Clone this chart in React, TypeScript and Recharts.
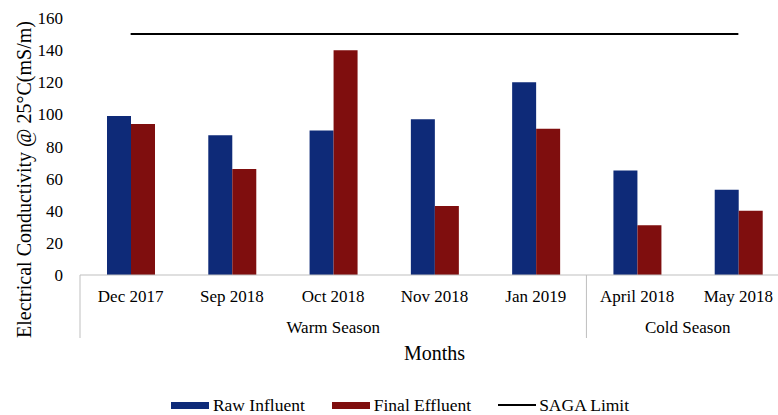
import { Bar, ComposedChart, Legend, Line, XAxis, YAxis } from 'recharts';

const months = ['Dec 2017', 'Sep 2018', 'Oct 2018', 'Nov 2018', 'Jan 2019', 'April 2018', 'May 2018'];
const seasons = ['Warm Season', 'Warm Season', 'Warm Season', 'Warm Season', 'Warm Season', 'Cold Season', 'Cold Season'];
const rawInfluent = [99, 87, 90, 97, 120, 65, 53];
const finalEffluent = [94, 66, 140, 43, 91, 31, 40];
const sagaLimit = [150, 150, 150, 150, 150, 150, 150];
const yTicks = [0, 20, 40, 60, 80, 100, 120, 140, 160];

const BLUE = '#0e2a78';
const RED = '#7f0e0e';
const AXIS_GREY = '#bfbfbf';
const FONT = '"Liberation Serif", "Times New Roman", serif';

// layout
const CHART_W = 800;
const CHART_H = 415;
const Y_AXIS_W = 80;
const MARGIN = { top: 18, right: 11, left: 0, bottom: 0 };
const BAND = (CHART_W - Y_AXIS_W - MARGIN.left - MARGIN.right) / months.length;

const data = months.map((m, i) => ({
  month: m,
  season: seasons[i],
  raw: rawInfluent[i],
  final: finalEffluent[i],
  saga: sagaLimit[i],
}));

const legendItems = [
  { name: 'Raw Influent', color: BLUE, kind: 'box' },
  { name: 'Final Effluent', color: RED, kind: 'box' },
  { name: 'SAGA Limit', color: '#000', kind: 'line' },
];

function MonthTick({ x, y, payload }: any) {
  const i = payload.index;
  const season = seasons[i];
  const members = seasons.map((s, k) => (s === season ? k : -1)).filter((k) => k >= 0);
  const start = members[0];
  const end = members[members.length - 1];
  const isStart = i === start;
  const groupCenter = x + ((start + end) / 2 - i) * BAND;
  return (
    <g>
      <text x={x} y={y + 27} textAnchor="middle" fontSize={17} fill="#000" fontFamily={FONT}>
        {payload.value}
      </text>
      {isStart && (
        <>
          <line x1={x - BAND / 2} x2={x - BAND / 2} y1={y} y2={y + 63} stroke={AXIS_GREY} />
          <text x={groupCenter} y={y + 58} textAnchor="middle" fontSize={17} fill="#000" fontFamily={FONT}>
            {season}
          </text>
        </>
      )}
      {i === end && i === seasons.length - 1 && (
        <line x1={x + BAND / 2} x2={x + BAND / 2} y1={y} y2={y + 63} stroke={AXIS_GREY} />
      )}
    </g>
  );
}

function YTitle({ viewBox }: any) {
  const cx = 24;
  const cy = viewBox.y + viewBox.height / 2 + 33;
  return (
    <text
      x={cx}
      y={cy}
      transform={`rotate(-90 ${cx} ${cy})`}
      textAnchor="middle"
      dominantBaseline="central"
      fontSize={20}
      fill="#000"
      fontFamily={FONT}
    >
      Electrical Conductivity @ 25°C(mS/m)
    </text>
  );
}

function LegendContent() {
  return (
    <div
      style={{
        display: 'flex',
        justifyContent: 'center',
        alignItems: 'center',
        height: 20,
        gap: 27,
        paddingLeft: 11,
        fontFamily: FONT,
        fontSize: 17.5,
        color: '#000',
      }}
    >
      {legendItems.map((item) => (
        <div key={item.name} style={{ display: 'flex', alignItems: 'center', gap: item.kind === 'line' ? 3 : 4 }}>
          <span
            style={{
              display: 'inline-block',
              width: 38,
              height: item.kind === 'line' ? 2 : 7,
              background: item.color,
            }}
          />
          <span>{item.name}</span>
        </div>
      ))}
    </div>
  );
}

export default function App() {
  return (
    <div style={{ position: 'fixed', left: 0, top: 0, width: 778, height: 415, overflow: 'hidden', background: '#fff' }}>
      <ComposedChart width={CHART_W} height={CHART_H} data={data} margin={MARGIN} barGap={0} style={{ fontFamily: FONT }}>
        <XAxis
          dataKey="month"
          height={120}
          interval={0}
          tickSize={0}
          tickMargin={0}
          tickLine={false}
          axisLine={{ stroke: AXIS_GREY, strokeWidth: 1 }}
          tick={<MonthTick />}
          label={{ value: 'Months', position: 'insideBottom', offset: 35, fontSize: 20, fill: '#000', fontFamily: FONT }}
        />
        <YAxis
          width={Y_AXIS_W}
          domain={[0, 160]}
          ticks={yTicks}
          axisLine={false}
          tickLine={false}
          tickSize={0}
          tickMargin={17}
          tick={{ fontSize: 17, fill: '#000', fontFamily: FONT }}
          label={{ content: YTitle }}
        />
        <Legend verticalAlign="bottom" content={<LegendContent />} />
        <Bar dataKey="raw" name="Raw Influent" fill={BLUE} barSize={24} isAnimationActive={false} />
        <Bar dataKey="final" name="Final Effluent" fill={RED} barSize={24} isAnimationActive={false} />
        <Line
          dataKey="saga"
          name="SAGA Limit"
          stroke="#000"
          strokeWidth={2}
          dot={false}
          activeDot={false}
          type="linear"
          isAnimationActive={false}
        />
      </ComposedChart>
    </div>
  );
}
